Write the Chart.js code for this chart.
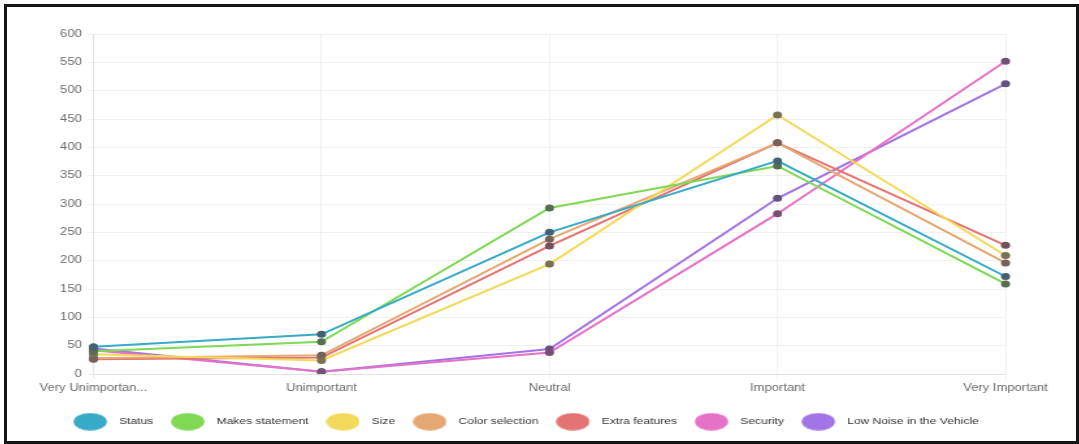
<!DOCTYPE html>
<html>
<head>
<meta charset="utf-8">
<script src="https://cdn.jsdelivr.net/npm/chart.js@4/dist/chart.umd.min.js"></script>
<style>
  html, body { margin: 0; padding: 0; background: #ffffff; }
  body { width: 1079px; height: 444px; position: relative; overflow: hidden; }
  #wrap {
    position: absolute; left: 6.5px; top: 0;
    width: 822px; height: 444px;
    transform: scaleX(1.3); transform-origin: 0 0;
  }
  #frame {
    position: absolute; left: 4px; top: 4px;
    width: 1075px; height: 440px;
    box-sizing: border-box; border: 3px solid #141414;
    pointer-events: none;
  }
</style>
</head>
<body>
<div id="wrap"><canvas id="chart" width="822" height="444"></canvas></div>
<div id="frame"></div>
<script>
// Survey answers: how important each vehicle attribute is to respondents
const categories = ['Very Unimportant', 'Unimportant', 'Neutral', 'Important', 'Very Important'];
const yTicks = [0, 50, 100, 150, 200, 250, 300, 350, 400, 450, 500, 550, 600];

const status          = [48, 70, 250, 376, 172];
const makesStatement  = [40, 57, 293, 367, 159];
const size            = [35, 24, 194, 457, 209];
const colorSelection  = [28, 33, 238, 408, 196];
const extraFeatures   = [26, 29, 226, 408, 227];
const security        = [42, 4, 38, 283, 552];
const lowNoise        = [45, 4, 44, 310, 512];

const seriesNames = ['Status', 'Makes statement', 'Size', 'Color selection',
                     'Extra features', 'Security', 'Low Noise in the Vehicle'];
const seriesValues = [status, makesStatement, size, colorSelection,
                      extraFeatures, security, lowNoise];
const seriesColors = ['#36aac6', '#7fd955', '#f3d95a', '#e6a872',
                      '#e47474', '#e672c8', '#a274e6'];

// darker marker fill: series colour pulled toward slate gray
function markerColor(hex) {
  const r = parseInt(hex.slice(1, 3), 16), g = parseInt(hex.slice(3, 5), 16), b = parseInt(hex.slice(5, 7), 16);
  const k = 0.3, base = [70, 66, 78];
  return `rgb(${Math.round(base[0] * (1 - k) + r * k)},${Math.round(base[1] * (1 - k) + g * k)},${Math.round(base[2] * (1 - k) + b * k)})`;
}

// oval legend swatches
function ovalSwatch(color) {
  const c = document.createElement('canvas');
  c.width = 26; c.height = 18;
  const g = c.getContext('2d');
  g.fillStyle = color;
  g.beginPath();
  g.ellipse(13, 9, 12.8, 8.8, 0, 0, Math.PI * 2);
  g.fill();
  return c;
}
const swatches = seriesColors.map(ovalSwatch);

const datasets = seriesNames.map((name, i) => ({
  label: name,
  data: seriesValues[i],
  borderColor: seriesColors[i],
  backgroundColor: seriesColors[i],
  borderWidth: 2,
  tension: 0,
  fill: false,
  pointRadius: 3.5,
  pointBorderWidth: 0,
  pointBackgroundColor: markerColor(seriesColors[i]),
  pointBorderColor: markerColor(seriesColors[i])
}));

const gridColor = 'rgba(0,0,0,0.06)';

new Chart(document.getElementById('chart'), {
  type: 'line',
  data: { labels: categories, datasets },
  options: {
    responsive: false,
    animation: false,
    devicePixelRatio: 1,
    layout: { padding: { left: 25.9, right: 53.9, top: 34, bottom: 7.7 } },
    scales: {
      x: {
        offset: false,
        grid: { color: gridColor, tickLength: 5, drawTicks: true },
        border: { color: gridColor },
        ticks: {
          padding: 3,
          color: '#6b6b6b',
          font: { family: 'Liberation Sans, Arial, sans-serif', size: 10 },
          maxRotation: 0,
          autoSkip: false,
          callback(value) {
            const t = this.getLabelForValue(value);
            return t.length > 15 ? t.slice(0, 15) + '...' : t;
          }
        },
        afterFit(scale) { scale.height = 34; }
      },
      y: {
        min: 0,
        max: 600,
        grid: { color: gridColor, tickLength: 5 },
        border: { color: gridColor },
        afterBuildTicks(scale) { scale.ticks = yTicks.map(v => ({ value: v })); },
        ticks: {
          padding: 4,
          color: '#6b6b6b',
          font: { family: 'Liberation Sans, Arial, sans-serif', size: 10 }
        },
        afterFit(scale) { scale.width = 40.6; }
      }
    },
    plugins: {
      tooltip: { enabled: false },
      legend: {
        position: 'bottom',
        labels: {
          usePointStyle: true,
          pointStyleWidth: 35,
          padding: 9,
          color: '#333333',
          font: { family: 'Liberation Sans, Arial, sans-serif', size: 9.3 },
          generateLabels(chart) {
            const items = Chart.defaults.plugins.legend.labels.generateLabels(chart);
            items.forEach(it => { it.pointStyle = swatches[it.datasetIndex]; });
            return items;
          }
        }
      }
    }
  }
});
</script>
</body>
</html>
